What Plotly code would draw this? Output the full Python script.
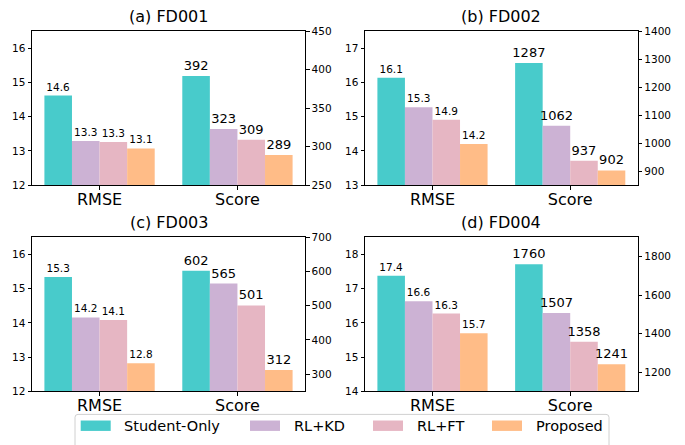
import plotly.graph_objects as go

# Metrics shown on each subplot's x axis
categories = ["RMSE", "Score"]
datasets = ["FD001", "FD002", "FD003", "FD004"]
panel_titles = ["(a) FD001", "(b) FD002", "(c) FD003", "(d) FD004"]

methods = ["Student-Only", "RL+KD", "RL+FT", "Proposed"]
colors = ["#48CBCB", "#CCB2D4", "#E6B6C3", "#FFBC87"]

# RMSE per dataset (FD001..FD004) for each method
student_only_rmse = [14.62, 16.14, 15.34, 17.38]
rl_kd_rmse = [13.29, 15.28, 14.16, 16.63]
rl_ft_rmse = [13.26, 14.91, 14.08, 16.27]
proposed_rmse = [13.07, 14.20, 12.82, 15.70]

# Score per dataset (FD001..FD004) for each method
student_only_score = [392, 1287, 602, 1760]
rl_kd_score = [323, 1062, 565, 1507]
rl_ft_score = [309, 937, 501, 1358]
proposed_score = [289, 902, 312, 1241]

rmse_by_method = [student_only_rmse, rl_kd_rmse, rl_ft_rmse, proposed_rmse]
score_by_method = [student_only_score, rl_kd_score, rl_ft_score, proposed_score]

# Axis setup per panel: left (RMSE) range/ticks, right (Score) range/ticks
left_ranges = [[12, 16.5], [13, 17.5], [12, 16.5], [14, 18.5]]
left_ticks = [[12, 13, 14, 15, 16], [13, 14, 15, 16, 17], [12, 13, 14, 15, 16], [14, 15, 16, 17, 18]]
right_ranges = [[250, 450], [850, 1400], [250, 700], [1100, 1900]]
right_ticks = [[250, 300, 350, 400, 450], [900, 1000, 1100, 1200, 1300, 1400],
               [300, 400, 500, 600, 700], [1200, 1400, 1600, 1800]]

W, H = 685, 445
col_px = [(32, 305), (365, 637.7)]
row_px = [(26, 184), (237.7, 396)]

FONT = "DejaVu Sans"


def px_x(v):
    return v / W


def px_y(v):
    return 1 - v / H


fig = go.Figure()
layout = dict(
    width=W, height=H, autosize=False,
    margin=dict(l=0, r=0, t=0, b=0),
    paper_bgcolor="white", plot_bgcolor="white",
    font=dict(family=FONT, color="black", size=10.5),
    barmode="group", bargap=0.2, bargroupgap=0,
    showlegend=False,
)

annotations = []
shapes = []
for i, ds in enumerate(datasets):
    r, c = divmod(i, 2)
    x0, x1 = col_px[c]
    y0, y1 = row_px[r]
    xd = [px_x(x0), px_x(x1)]
    yd = [px_y(y1), px_y(y0)]
    xname = "x" if i == 0 else f"x{i + 1}"
    yl = "y" if i == 0 else f"y{2 * i + 1}"
    yr = f"y{2 * i + 2}"
    xkey = "xaxis" if i == 0 else f"xaxis{i + 1}"
    ylkey = "yaxis" if i == 0 else f"yaxis{2 * i + 1}"
    yrkey = f"yaxis{2 * i + 2}"

    layout[xkey] = dict(
        domain=xd, anchor=yl, type="category",
        categoryorder="array", categoryarray=categories,
        range=[-0.49, 1.49],
        showline=True, linecolor="black", linewidth=1, mirror=True,
        ticks="outside", ticklen=3.5, tickcolor="black", ticklabelstandoff=-4,
        tickfont=dict(size=16, family=FONT), showgrid=False, zeroline=False,
    )
    layout[ylkey] = dict(
        domain=yd, anchor=xname, range=left_ranges[i], tickvals=left_ticks[i],
        showline=True, linecolor="black", linewidth=1,
        ticks="outside", ticklen=3.5, tickcolor="black",
        tickfont=dict(size=10.5, family=FONT), showgrid=False, zeroline=False,
    )
    layout[yrkey] = dict(
        overlaying=yl, anchor=xname, side="right",
        range=right_ranges[i], tickvals=right_ticks[i],
        showline=True, linecolor="black", linewidth=1,
        ticks="outside", ticklen=3.5, tickcolor="black",
        tickfont=dict(size=10.5, family=FONT), showgrid=False, zeroline=False,
    )

    for m, name in enumerate(methods):
        fig.add_trace(go.Bar(
            x=[categories[0]], y=[rmse_by_method[m][i]],
            xaxis=xname, yaxis=yl, name=name,
            marker=dict(color=colors[m], line=dict(width=0)),
            texttemplate="%{y:.1f}", textposition="outside", constraintext="none",
            textfont=dict(size=10.5, family=FONT, color="black"),
            cliponaxis=False, hoverinfo="skip",
        ))
    for m, name in enumerate(methods):
        fig.add_trace(go.Bar(
            x=[categories[1]], y=[score_by_method[m][i]],
            xaxis=xname, yaxis=yr, name=name,
            marker=dict(color=colors[m], line=dict(width=0)),
            texttemplate="%{y}", textposition="outside", constraintext="none",
            textfont=dict(size=13, family=FONT, color="black"),
            cliponaxis=False, hoverinfo="skip",
        ))

    annotations.append(dict(
        text=panel_titles[i], xref="paper", yref="paper",
        x=px_x((x0 + x1) / 2), y=px_y(y0 - 3),
        xanchor="center", yanchor="bottom", showarrow=False,
        font=dict(size=16, family=FONT, color="black"),
    ))

# Shared legend along the bottom edge: rounded frame, colour patches and labels
lx0, lx1, ly0, ly1, rad = 75, 609, 419.7, 452, 3
frame = (
    f"M {px_x(lx0 + rad)},{px_y(ly0)} L {px_x(lx1 - rad)},{px_y(ly0)} "
    f"Q {px_x(lx1)},{px_y(ly0)} {px_x(lx1)},{px_y(ly0 + rad)} "
    f"L {px_x(lx1)},{px_y(ly1)} L {px_x(lx0)},{px_y(ly1)} "
    f"L {px_x(lx0)},{px_y(ly0 + rad)} Q {px_x(lx0)},{px_y(ly0)} {px_x(lx0 + rad)},{px_y(ly0)} Z"
)
shapes.append(dict(type="path", path=frame, xref="paper", yref="paper", layer="below",
                   line=dict(color="#D0D0D0", width=1), fillcolor="white"))
legend_patch_x = [80.7, 250, 373, 492]
for name, col, px0 in zip(methods, colors, legend_patch_x):
    shapes.append(dict(type="rect", xref="paper", yref="paper",
                       x0=px_x(px0), x1=px_x(px0 + 30), y0=px_y(436.7), y1=px_y(426),
                       line=dict(width=0), fillcolor=col))
    annotations.append(dict(
        text=name, xref="paper", yref="paper", x=px_x(px0 + 41.6), y=px_y(431.5),
        xanchor="left", yanchor="middle", showarrow=False,
        font=dict(size=14.5, family=FONT, color="black"),
    ))

layout["annotations"] = annotations
layout["shapes"] = shapes
fig.update_layout(**layout)
fig.write_html("out.html")
